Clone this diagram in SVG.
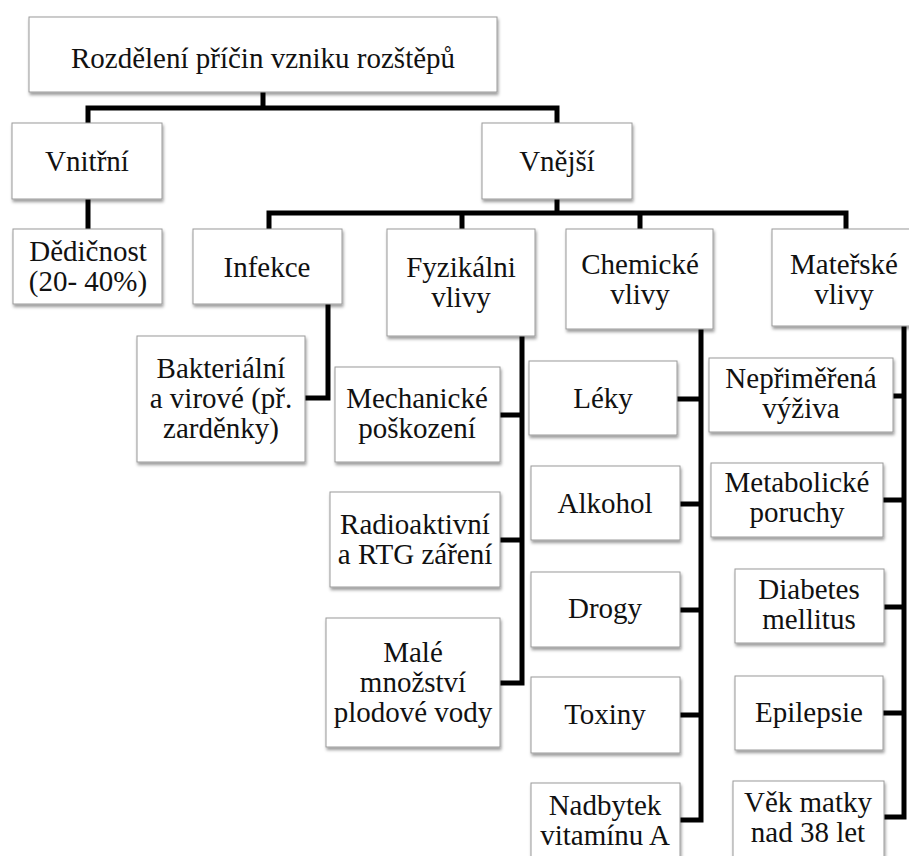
<svg xmlns="http://www.w3.org/2000/svg" width="909" height="856" viewBox="0 0 909 856">
<defs>
<filter id="sh" x="-10%" y="-10%" width="125%" height="130%">
<feDropShadow dx="1" dy="2.5" stdDeviation="1.5" flood-color="#000" flood-opacity="0.4"/>
</filter>
</defs>
<style>
.box{fill:#fff;stroke:#9a9a9a;stroke-width:1;filter:url(#sh)}
text{font-family:"Liberation Serif","Times New Roman",serif;font-size:29px;fill:#111;text-anchor:middle}
.c{fill:none;stroke:#000;stroke-width:5;stroke-linejoin:miter;stroke-linecap:butt}
</style>
<rect width="909" height="856" fill="#fff"/>
<g id="connectors">
<path class="c" d="M263 92V108M88 123V108H557V123"/>
<path class="c" d="M88 199V229"/>
<path class="c" d="M557 199V213M269 229V213H846V229M462 213V229M640 213V229"/>
<path class="c" d="M328 304V398H305"/>
<path class="c" d="M522 336V683H500M500 415H522M500 540H522"/>
<path class="c" d="M701 329V820H680M677 399H701M680 504H701M680 610H701M680 715H701"/>
<path class="c" d="M904 326V817H884M893 396H904M883 500H904M884 607H904M883 713H904"/>
</g>
<g id="root"><rect class="box" x="29" y="17" width="468" height="75"/><text x="263" y="68">Rozdělení příčin vzniku rozštěpů</text></g>
<g id="vnitrni"><rect class="box" x="12" y="123" width="150" height="76"/><text x="87" y="171">Vnitřní</text></g>
<g id="vnejsi"><rect class="box" x="482" y="123" width="150" height="76"/><text x="557" y="171">Vnější</text></g>
<g id="dedicnost"><rect class="box" x="13" y="229" width="149" height="75"/><text x="88" y="261">Dědičnost</text><text x="88" y="291">(20- 40%)</text></g>
<g id="infekce"><rect class="box" x="193" y="229" width="149" height="75"/><text x="267" y="277">Infekce</text></g>
<g id="fyzikalni"><rect class="box" x="387" y="229" width="148" height="107"/><text x="461" y="277">Fyzikálni</text><text x="461" y="307">vlivy</text></g>
<g id="chemicke"><rect class="box" x="566" y="229" width="147" height="100"/><text x="640" y="274">Chemické</text><text x="640" y="304">vlivy</text></g>
<g id="materske"><rect class="box" x="772" y="229" width="140" height="97"/><text x="844" y="274">Mateřské</text><text x="844" y="304">vlivy</text></g>
<g id="bakterialni"><rect class="box" x="137" y="336" width="168" height="126"/><text x="221" y="378">Bakteriální</text><text x="221" y="408">a virové (př.</text><text x="221" y="438">zarděnky)</text></g>
<g id="mechanicke"><rect class="box" x="335" y="367" width="165" height="95"/><text x="417" y="408">Mechanické</text><text x="417" y="438">poškození</text></g>
<g id="radioaktivni"><rect class="box" x="330" y="492" width="170" height="95"/><text x="415" y="534">Radioaktivní</text><text x="415" y="564">a RTG záření</text></g>
<g id="male"><rect class="box" x="326" y="618" width="174" height="129"/><text x="413" y="662">Malé</text><text x="413" y="692">množství</text><text x="413" y="722">plodové vody</text></g>
<g id="leky"><rect class="box" x="529" y="361" width="148" height="74"/><text x="603" y="408">Léky</text></g>
<g id="alkohol"><rect class="box" x="531" y="466" width="149" height="74"/><text x="605" y="513">Alkohol</text></g>
<g id="drogy"><rect class="box" x="531" y="572" width="149" height="75"/><text x="605" y="618">Drogy</text></g>
<g id="toxiny"><rect class="box" x="531" y="677" width="149" height="76"/><text x="605" y="724">Toxiny</text></g>
<g id="nadbytek"><rect class="box" x="531" y="783" width="149" height="85"/><text x="605" y="815">Nadbytek</text><text x="605" y="845">vitamínu A</text></g>
<g id="nepirimerena"><rect class="box" x="709" y="358" width="184" height="74"/><text x="801" y="388">Nepřiměřená</text><text x="801" y="418">výživa</text></g>
<g id="metabolicke"><rect class="box" x="711" y="463" width="172" height="74"/><text x="797" y="492">Metabolické</text><text x="797" y="522">poruchy</text></g>
<g id="diabetes"><rect class="box" x="735" y="569" width="149" height="74"/><text x="809" y="599">Diabetes</text><text x="809" y="629">mellitus</text></g>
<g id="epilepsie"><rect class="box" x="735" y="676" width="148" height="74"/><text x="809" y="722">Epilepsie</text></g>
<g id="vek"><rect class="box" x="733" y="781" width="151" height="85"/><text x="808" y="812">Věk matky</text><text x="808" y="842">nad 38 let</text></g>
</svg>
